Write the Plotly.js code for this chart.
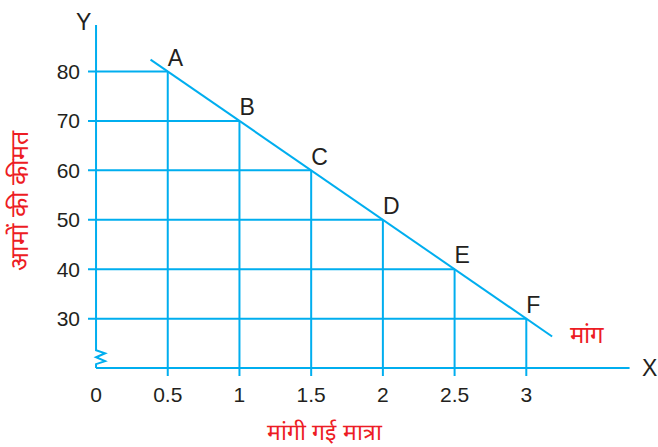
<!DOCTYPE html>
<html>
<head>
<meta charset="utf-8">
<script src="https://cdn.plot.ly/plotly-3.0.1.min.js"></script>
<style>
  body { margin: 0; background: #fff; }
  #chart { width: 658px; height: 447px; }
</style>
</head>
<body>
<div id="chart"></div>
<script>
// --- dados do gráfico ---
const pontosX = [0.5, 1, 1.5, 2, 2.5, 3];
const pontosY = [80, 70, 60, 50, 40, 30];
const rotulos = ["A", "B", "C", "D", "E", "F"];

// extremos da reta de demanda
const retaX = [0.38, 3.18];
const retaY = [82.4, 26.4];

const ticksX = [0, 0.5, 1, 1.5, 2, 2.5, 3];
const ticksXTexto = ["0", "0.5", "1", "1.5", "2", "2.5", "3"];
const ticksY = [30, 40, 50, 60, 70, 80];

const azul = "#00AEEF";
const vermelho = "#ED1C24";
const preto = "#231f20";
const fonte = "'Liberation Sans', Arial, sans-serif";

// reta de demanda
const traceReta = {
  x: retaX,
  y: retaY,
  type: "scatter",
  mode: "lines",
  line: { color: azul, width: 2 },
  hoverinfo: "skip",
};

// rótulos A..F
const traceRotulos = {
  x: pontosX,
  y: pontosY,
  type: "scatter",
  mode: "text",
  text: rotulos,
  textposition: "top right",
  textfont: { color: preto, size: 23, family: fonte },
  cliponaxis: false,
  hoverinfo: "skip",
};

// linhas de grade até cada ponto
const shapes = [];
pontosX.forEach((x, i) => {
  const y = pontosY[i];
  shapes.push({
    type: "line", xref: "x", yref: "y",
    x0: -0.056, x1: x, y0: y, y1: y,
    line: { color: azul, width: 2 },
  });
  shapes.push({
    type: "line", xref: "x", yref: "y",
    x0: x, x1: x, y0: 18.4, y1: y,
    line: { color: azul, width: 2 },
  });
});

// eixo X
shapes.push({
  type: "line", xref: "x", yref: "y",
  x0: 0, x1: 3.72, y0: 20, y1: 20,
  line: { color: azul, width: 2 },
});

// eixo Y com quebra (zigue-zague)
shapes.push({
  type: "path", xref: "x", yref: "y",
  path: "M 0 89.4 L 0 23.6 L 0.063 23.0 L 0 22.2 L 0.063 21.4 L 0 20.8 L 0 20",
  line: { color: azul, width: 2 },
});

const annotations = [
  { x: 1.034, y: 0.027, xref: "paper", yref: "paper", xanchor: "center", yanchor: "middle",
    text: "X", showarrow: false, font: { size: 23, color: preto, family: fonte } },
  { x: -0.004, y: 1.006, xref: "paper", yref: "paper", xanchor: "center", yanchor: "middle",
    text: "Y", showarrow: false, font: { size: 23, color: preto, family: fonte } },
  { x: 3.42, y: 26.7, xref: "x", yref: "y", xanchor: "center", yanchor: "middle",
    text: "मांग", showarrow: false, font: { size: 24, color: vermelho } },
  { x: 0.438, y: -0.152, xref: "paper", yref: "paper", xanchor: "center", yanchor: "middle",
    text: "मांगी गई मात्रा", showarrow: false, font: { size: 23, color: vermelho } },
];

const layout = {
  width: 658,
  height: 447,
  paper_bgcolor: "#fff",
  plot_bgcolor: "#fff",
  showlegend: false,
  font: { family: fonte, color: preto },
  margin: { l: 86, r: 27, t: 24, b: 69 },
  xaxis: {
    range: [-0.07, 3.73],
    showgrid: false,
    zeroline: false,
    showline: false,
    tickvals: ticksX,
    ticktext: ticksXTexto,
    ticks: "",
    tickfont: { size: 21, color: preto, family: fonte },
    ticklabelstandoff: 2,
  },
  yaxis: {
    range: [18, 89.6],
    showgrid: false,
    zeroline: false,
    showline: false,
    tickvals: ticksY,
    ticks: "",
    tickfont: { size: 21, color: preto, family: fonte },
    ticklabelstandoff: 5,
    title: {
      text: "आमों की कीमत",
      font: { size: 25, color: vermelho },
      standoff: 20,
    },
  },
  shapes: shapes,
  annotations: annotations,
};

Plotly.newPlot("chart", [traceReta, traceRotulos], layout, { displayModeBar: false, staticPlot: true });
</script>
</body>
</html>
